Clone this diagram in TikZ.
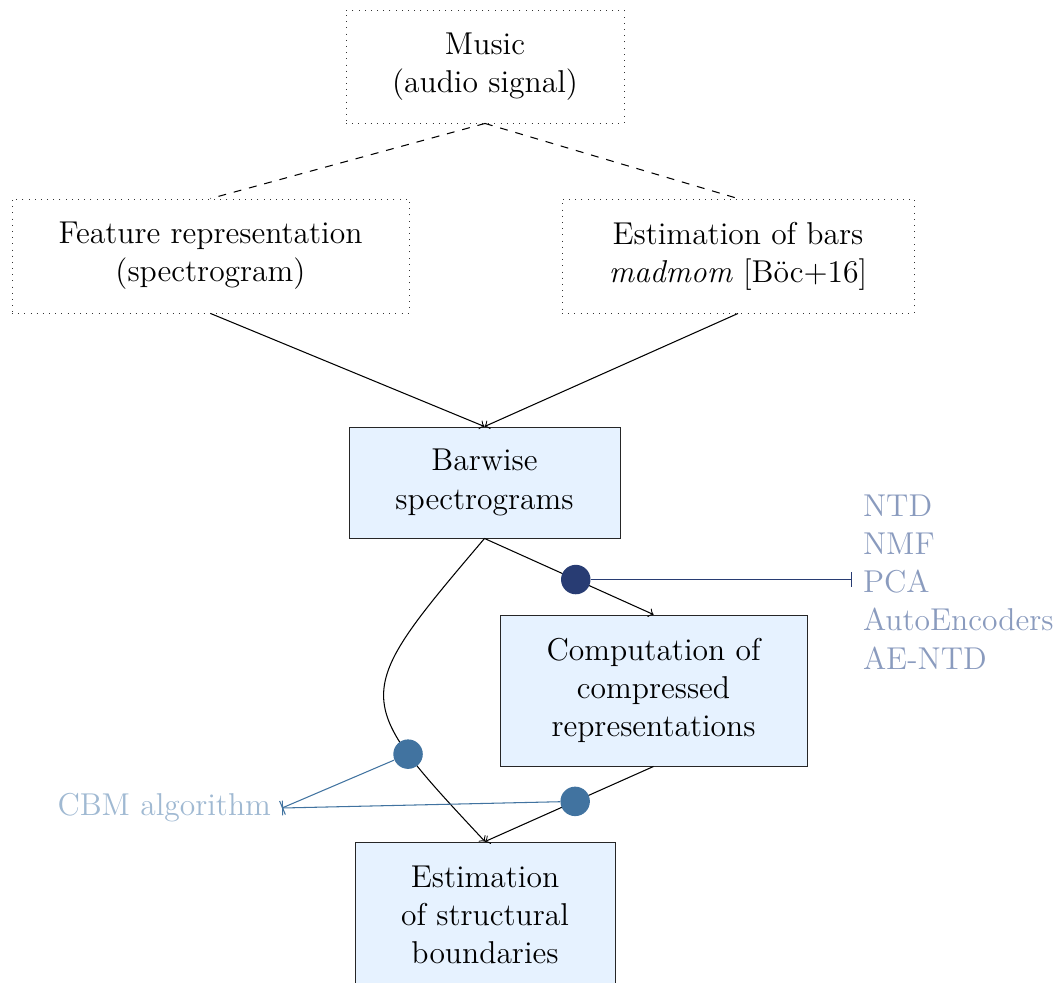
\documentclass[tikz,border=0pt]{standalone}
\usetikzlibrary{arrows}
\definecolor{boxfill}{RGB}{230,242,255}
\definecolor{navydot}{RGB}{40,60,115}
\definecolor{steeldot}{RGB}{65,115,160}
\definecolor{ntdtext}{RGB}{138,155,190}
\definecolor{cbmtext}{RGB}{160,185,210}
\begin{document}
\begin{tikzpicture}[x=0.38pt,y=-0.38pt,
  every node/.style={font=\fontsize{12}{14.5}\selectfont, align=center, inner sep=0pt},
  dotbox/.style={draw=black!80, dotted, rectangle, line width=0.35pt},
  bluebox/.style={draw=black!85, fill=boxfill, rectangle, line width=0.35pt},
  bigdot/.style={circle, fill=#1, minimum size=11.2pt, inner sep=0pt},
  conn/.style={->},
]
\useasboundingbox (0,0) rectangle (1058,982);
\node[dotbox, minimum width={278*0.38pt}, minimum height={113*0.38pt}] (music) at (485,66.5) {Music\\(audio signal)};
\node[dotbox, minimum width={397*0.38pt}, minimum height={114*0.38pt}] (feat) at (210.5,256) {Feature representation\\(spectrogram)};
\node[dotbox, minimum width={352*0.38pt}, minimum height={114*0.38pt}] (bars) at (738,256) {Estimation of bars\\\textit{madmom} [Böc+16]};
\node[bluebox, minimum width={271*0.38pt}, minimum height={111*0.38pt}] (barwise) at (484.5,482.5) {Barwise\\spectrograms};
\node[bluebox, minimum width={307*0.38pt}, minimum height={151*0.38pt}] (comp) at (653.5,690.5) {Computation of\\compressed\\representations};
\node[bluebox, minimum width={260*0.38pt}, minimum height={146*0.38pt}] (struct) at (485,915) {Estimation\\of structural\\boundaries};
\node[anchor=west, align=left, text=ntdtext, inner sep=4pt] (ntd) at (852,582) {NTD\\NMF\\PCA\\AutoEncoders\\AE-NTD};
\node[anchor=east, text=cbmtext, inner sep=4pt] (cbm) at (282,808) {CBM algorithm};

\draw[dashed] (music.south) -- (feat.north);
\draw[dashed] (music.south) -- (bars.north);
\draw[conn] (feat.south) -- (barwise.north);
\draw[conn] (bars.south) -- (barwise.north);
\draw[conn] (barwise.south) -- node[bigdot=navydot, pos=0.54] (d1) {} (comp.north);
\draw[conn] (barwise.south) .. controls (350,697) .. node[bigdot=steeldot, pos=0.745] (d2) {} (struct.north);
\draw[conn] (comp.south) -- node[bigdot=steeldot, pos=0.465] (d3) {} (struct.north);
\draw[navydot, -|] (d1) -- (d1 -| ntd.west);
\draw[steeldot, -|] (d2) -- (cbm.east);
\draw[steeldot, -|] (d3) -- (cbm.east);
\end{tikzpicture}
\end{document}
